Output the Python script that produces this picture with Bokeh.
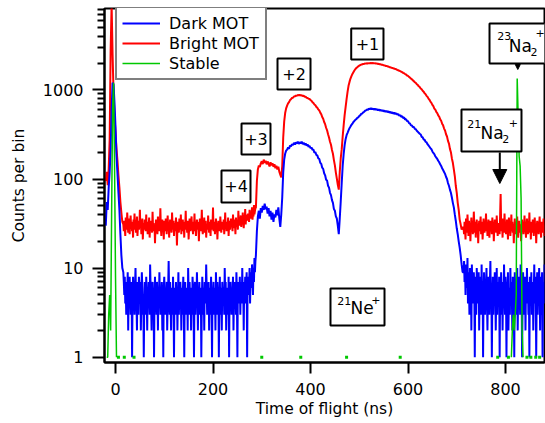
import numpy as np
from bokeh.plotting import figure
from bokeh.models import (Range1d, FixedTicker, PrintfTickFormatter, Legend, LegendItem,
                          BoxAnnotation, Label, Arrow, NormalHead)
from bokeh.embed import file_html
from bokeh.resources import INLINE

# ---------------- data: time of flight (ns) and counts per bin ----------------
# each segment: start time, bin width (ns), counts

dark_spike_t0, dark_spike_bin = -20, 2
dark_spike = [30, 55, 45, 80, 120, 210, 600, 1200, 1150, 700, 380, 180, 115, 70, 45, 24, 14, 10]
dark_floor_left_t0, dark_floor_left_bin = 16, 1
dark_floor_left = [
    9, 7, 5, 8, 4, 6, 3, 7, 5, 9, 2, 6, 4, 8, 5, 3, 7,
    6, 1, 5, 8, 4, 7, 3, 6, 10, 5, 4, 2, 7, 5, 3, 8, 6,
    4, 7, 2, 5, 9, 6, 3, 5, 1, 4, 7, 6, 3, 8, 5, 2, 6,
    4, 7, 5, 3, 11, 6, 4, 2, 5, 7, 3, 6, 1, 5, 8, 4, 6,
    3, 7, 5, 2, 6, 4, 9, 5, 3, 6, 4, 7, 2, 5, 1, 6, 8,
    4, 3, 6, 5, 7, 2, 4, 6, 12, 5, 3, 7, 4, 2, 6, 5, 3,
    8, 4, 1, 6, 5, 3, 7, 4, 6, 2, 5, 9, 3, 6, 4, 7, 5,
    2, 6, 3, 5, 8, 4, 1, 6, 7, 3, 5, 4, 6, 2, 10, 5, 3,
    7, 4, 6, 2, 5, 3, 8, 6, 4, 1, 5, 7, 3, 6, 4, 9, 5,
    2, 6, 4, 7, 3, 5, 6, 1, 4, 8, 5, 3, 6, 2, 7, 4, 5,
    11, 6, 3, 5, 4, 7, 2, 6, 5, 3, 8, 4, 1, 6, 5, 7, 3,
    4, 6, 2, 9, 5, 3, 7, 4, 6, 1, 5, 8, 3, 6, 4, 2, 7,
    5, 4, 6, 3, 10, 5, 7, 2, 4, 6, 5, 3, 8, 1, 6, 4, 7,
    5, 3, 6, 4, 8, 2, 5, 7, 4, 6, 3, 9, 5, 1, 7, 4, 6,
    5, 8, 3, 6, 7, 4, 10, 5, 6, 2, 7, 5, 8, 4, 6, 9, 1,
    7, 5, 8, 6, 10, 4, 7, 9, 6, 11, 8, 5, 10, 7, 13, 9, 12]
dark_step_t0, dark_step_bin = 288, 2
dark_step = [14, 26, 38, 44, 36, 47, 42, 50, 45, 53, 46, 49, 41, 47, 38, 44, 35, 42,
             33, 40, 37, 45, 39, 48, 36, 29, 40]
dark_humps_t0, dark_humps_bin = 342, 2
dark_humps = [
    62, 118, 165, 192, 208, 214, 226, 218, 238, 232,
    246, 240, 255, 244, 258, 250, 262, 248, 258, 252,
    262, 246, 255, 241, 250, 238, 244, 230, 236, 222,
    226, 212, 214, 198, 200, 186, 184, 170, 168, 152,
    148, 134, 130, 116, 110, 98, 96, 84, 80, 70,
    66, 58, 54, 46, 44, 38, 36, 30, 24, 36,
    56, 90, 140, 190, 240, 280, 310, 330, 352, 372,
    388, 405, 418, 436, 448, 462, 470, 486, 492, 510,
    518, 538, 542, 560, 566, 584, 590, 604, 596, 618,
    608, 622, 606, 618, 600, 614, 598, 610, 590, 604,
    584, 598, 580, 592, 574, 586, 568, 580, 562, 574,
    556, 568, 548, 560, 540, 556, 535, 548, 526, 538,
    512, 524, 500, 506, 484, 490, 466, 470, 448, 446,
    424, 420, 400, 398, 382, 384, 366, 362, 348, 340,
    330, 322, 316, 298, 294, 278, 276, 262, 258, 246,
    238, 230, 222, 216, 204, 196, 190, 180, 174, 168,
    160, 154, 146, 140, 132, 126, 120, 114, 106, 100,
    90, 84, 76, 70, 62, 54, 48, 40, 34, 28,
    24, 20, 17, 14, 11, 9]
dark_floor_right_t0, dark_floor_right_bin = 714, 1
dark_floor_right = [
    9, 12, 7, 10, 5, 11, 8, 6, 13, 4, 9, 7, 3, 10,
    6, 8, 2, 11, 5, 7, 4, 9, 6, 1, 8, 5, 3, 10,
    6, 4, 7, 9, 2, 5, 8, 6, 3, 11, 4, 7, 1, 5,
    9, 6, 3, 7, 5, 10, 4, 2, 6, 8, 5, 3, 7, 12,
    4, 6, 1, 5, 8, 3, 7, 4, 9, 6, 2, 5, 10, 3,
    7, 5, 4, 8, 1, 6, 3, 9, 5, 7, 2, 6, 4, 11,
    5, 3, 8, 6, 1, 7, 4, 9, 2, 5, 6, 3, 10, 4,
    7, 5, 2, 8, 6, 4, 1, 9, 5, 3, 7, 6, 10, 2,
    5, 8, 4, 6, 3, 11, 5, 7, 1, 4, 9, 6, 3, 5,
    8, 2, 6, 4, 10, 5, 7, 3, 6, 1, 8, 5, 4, 9,
    3, 6, 7, 2, 5, 11, 4, 8, 6, 1, 5, 9, 3, 7,
    4, 10, 6, 2, 8, 5, 3, 9, 1, 6, 7, 4, 11, 5]

bright_spike_t0, bright_spike_bin = -20, 2
bright_spike = [95, 120, 85, 130, 280, 2800, 9000, 2500, 900, 500, 330, 220, 160, 110, 80, 55, 42, 33]
bright_floor_left_t0, bright_floor_left_bin = 16, 1
bright_floor_left = [
    31, 26, 34, 28, 23, 37, 30, 27, 42, 33, 25, 29, 36, 24, 31, 39, 28,
    33, 26, 30, 22, 35, 29, 41, 27, 32, 25, 30, 38, 23, 29, 34, 27, 31,
    45, 28, 33, 24, 30, 36, 21, 29, 32, 27, 35, 30, 26, 40, 28, 31, 24,
    33, 29, 37, 22, 30, 27, 34, 31, 25, 43, 28, 32, 26, 30, 19, 29, 35,
    27, 31, 24, 38, 29, 33, 26, 30, 47, 28, 23, 32, 35, 27, 30, 21, 34,
    29, 26, 36, 31, 24, 30, 39, 27, 33, 22, 29, 35, 28, 31, 25, 42, 30,
    27, 34, 23, 29, 32, 26, 37, 30, 18, 28, 33, 31, 25, 36, 29, 27, 40,
    24, 31, 28, 35, 26, 30, 22, 33, 29, 44, 27, 31, 25, 34, 30, 21, 28,
    36, 29, 26, 32, 38, 27, 30, 24, 33, 28, 41, 26, 31, 23, 29, 35, 30,
    27, 33, 20, 29, 36, 31, 26, 30, 45, 28, 24, 32, 29, 37, 25, 30, 34,
    22, 28, 31, 27, 39, 30, 25, 33, 29, 23, 35, 31, 27, 30, 48, 26, 29,
    33, 24, 30, 36, 28, 31, 21, 29, 34, 27, 32, 26, 38, 30, 25, 33, 29,
    31, 27, 35, 24, 30, 42, 28, 33, 26, 31, 29, 37, 23, 30, 34, 27, 32,
    36, 29, 33, 26, 40, 30, 35, 28, 32, 24, 37, 31, 29, 34, 27, 44, 32,
    30, 36, 33, 39, 29, 35, 31, 42, 34, 28, 37, 33, 46, 31, 38, 35, 40,
    34, 41, 37, 33, 45, 38, 36, 43, 39, 48, 35, 42, 38, 51, 40, 44, 47]
bright_step_t0, bright_step_bin = 288, 2
bright_step = [48, 95, 128, 142, 136, 150, 158, 147, 165, 152, 160, 146, 157, 149, 138,
               154, 143, 150, 137, 146, 132, 141, 128, 137, 121, 112, 104]
bright_humps_t0, bright_humps_bin = 342, 2
bright_humps = [
    140, 290, 440, 550, 620, 665, 705, 730, 768, 785,
    812, 818, 842, 846, 862, 858, 875, 868, 880, 866,
    872, 855, 858, 838, 840, 815, 812, 795, 792, 768,
    755, 726, 714, 686, 672, 645, 632, 604, 588, 556,
    534, 496, 474, 436, 412, 376, 352, 318, 292, 262,
    242, 212, 192, 163, 142, 118, 101, 86, 76, 120,
    170, 215, 300, 400, 520, 640, 790, 950, 1110, 1230,
    1340, 1430, 1510, 1580, 1650, 1710, 1760, 1800, 1840, 1870,
    1900, 1925, 1930, 1955, 1958, 1975, 1972, 1990, 1984, 1998,
    1990, 2004, 1992, 2000, 1985, 1990, 1975, 1978, 1958, 1960,
    1940, 1938, 1912, 1910, 1886, 1884, 1860, 1856, 1832, 1826,
    1800, 1796, 1770, 1766, 1740, 1734, 1712, 1702, 1676, 1664,
    1638, 1626, 1598, 1584, 1552, 1536, 1506, 1488, 1452, 1436,
    1398, 1376, 1338, 1316, 1278, 1256, 1218, 1196, 1158, 1136,
    1098, 1076, 1038, 1016, 978, 956, 918, 896, 858, 836,
    798, 776, 738, 716, 678, 656, 618, 600, 568, 550,
    518, 500, 468, 450, 418, 400, 368, 350, 318, 300,
    268, 250, 218, 200, 170, 152, 128, 108, 84, 70,
    54, 45, 35, 31, 27, 29]
bright_floor_right_t0, bright_floor_right_bin = 714, 1
bright_floor_right = [
    28, 24, 33, 27, 21, 36, 29, 25, 40, 30, 23, 34, 27, 31,
    20, 29, 37, 26, 32, 24, 28, 43, 30, 25, 33, 22, 29, 35,
    27, 31, 19, 28, 34, 26, 30, 38, 24, 29, 33, 21, 27, 36,
    30, 25, 32, 28, 41, 26, 31, 23, 29, 35, 27, 22, 30, 34,
    26, 31, 24, 37, 28, 33, 20, 29, 35, 27, 30, 25, 39, 28,
    23, 32, 27, 30, 24, 40, 68, 33, 26, 30, 22, 36, 28, 25,
    41, 29, 32, 24, 27, 35, 30, 21, 28, 37, 26, 31, 23, 29,
    40, 27, 33, 25, 30, 19, 28, 36, 27, 24, 32, 29, 38, 26,
    22, 30, 34, 27, 25, 31, 20, 29, 35, 27, 33, 24, 28, 39,
    26, 31, 22, 29, 36, 27, 24, 32, 28, 42, 25, 30, 21, 33,
    29, 25, 35, 28, 23, 31, 37, 26, 30, 19, 28, 34, 27, 32,
    24, 30, 38, 26, 29, 22, 33, 27, 31, 25, 36, 28, 23, 30]

stable_left_t0, stable_left_bin = -18, 2
stable_left = [1, 1, 3, 5, 2, 40, 600, 1200, 150, 8, 1]
stable_right_t0, stable_right_bin = 812, 2
stable_right = [1, 2, 3, 2, 3, 5, 1340, 500, 180, 140, 60, 2, 1]
stable_single_t = [6, 18, 38, 300, 380, 474, 584, 784, 806, 844, 852, 862, 870]
stable_single = [1, 1, 1, 1, 1, 1, 1, 1, 1, 1, 1, 1, 1]

x_ticks = [0, 200, 400, 600, 800]
y_ticks = [1, 10, 100, 1000]

BLUE, RED, GREEN = "#0000ff", "#ff0000", "#00c800"
FONT = "DejaVu Sans"


def series(segments, gap=False):
    xs, ys = [], []
    for t0, step, vals in segments:
        xs.extend(t0 + step * np.arange(len(vals)))
        ys.extend(vals)
        if gap:
            xs.append(np.nan)
            ys.append(np.nan)
    return np.array(xs, float), np.array(ys, float)


dark_x, dark_y = series([
    (dark_spike_t0, dark_spike_bin, dark_spike),
    (dark_floor_left_t0, dark_floor_left_bin, dark_floor_left),
    (dark_step_t0, dark_step_bin, dark_step),
    (dark_humps_t0, dark_humps_bin, dark_humps),
    (dark_floor_right_t0, dark_floor_right_bin, dark_floor_right)])
bright_x, bright_y = series([
    (bright_spike_t0, bright_spike_bin, bright_spike),
    (bright_floor_left_t0, bright_floor_left_bin, bright_floor_left),
    (bright_step_t0, bright_step_bin, bright_step),
    (bright_humps_t0, bright_humps_bin, bright_humps),
    (bright_floor_right_t0, bright_floor_right_bin, bright_floor_right)])
stable_x, stable_y = series([
    (stable_left_t0, stable_left_bin, stable_left),
    (stable_right_t0, stable_right_bin, stable_right)], gap=True)

p = figure(width=545, height=423, y_axis_type="log",
           x_range=Range1d(-22.6, 880), y_range=Range1d(0.872, 8196),
           output_backend="svg", toolbar_location=None,
           min_border_left=104, min_border_right=1, min_border_top=8, min_border_bottom=61)
p.grid.visible = False
p.outline_line_color = "black"
p.outline_line_width = 2
p.background_fill_color = "white"
p.border_fill_color = "white"

r_bright = p.line(bright_x, bright_y, line_color=RED, line_width=2)
r_dark = p.line(dark_x, dark_y, line_color=BLUE, line_width=2)
r_stable = p.line(stable_x, stable_y, line_color=GREEN, line_width=1.5)
p.scatter(stable_single_t, stable_single, marker="square", size=3, color=GREEN, line_width=0)

# axes
for ax in (p.xaxis[0], p.yaxis[0]):
    ax.axis_line_width = 2
    ax.axis_line_color = "black"
    ax.major_tick_line_width = 2
    ax.major_tick_line_color = "black"
    ax.major_tick_in = 0
    ax.minor_tick_in = 0
    ax.major_label_text_font = FONT
    ax.major_label_text_font_size = "16px"
    ax.major_label_text_color = "black"
    ax.axis_label_text_font = FONT
    ax.axis_label_text_font_size = "15.5px"
    ax.axis_label_text_font_style = "normal"
    ax.axis_label_text_color = "black"

p.xaxis.ticker = FixedTicker(ticks=x_ticks)
p.xaxis.major_tick_out = 11
p.xaxis.minor_tick_line_color = None
p.xaxis.major_label_standoff = 9
p.xaxis.axis_label = "Time of flight (ns)"
p.xaxis.axis_label_standoff = 2

minor = [m * d for d in (1, 10, 100, 1000) for m in range(2, 10) if m * d < 8196]
p.yaxis.ticker = FixedTicker(ticks=y_ticks, minor_ticks=minor)
p.yaxis.formatter = PrintfTickFormatter(format="%d")
p.yaxis.major_tick_out = 12
p.yaxis.minor_tick_out = 7
p.yaxis.minor_tick_line_width = 2
p.yaxis.minor_tick_line_color = "black"
p.yaxis.major_label_standoff = 9
p.yaxis.axis_label = "Counts per bin"
p.yaxis.axis_label_standoff = 12

# legend
legend = Legend(items=[LegendItem(label="Dark MOT", renderers=[r_dark]),
                       LegendItem(label="Bright MOT", renderers=[r_bright]),
                       LegendItem(label="Stable", renderers=[r_stable])],
                location=(11, 282), margin=0, padding=5, spacing=0,
                glyph_width=38, glyph_height=20, label_height=20, label_width=91,
                label_standoff=9, label_text_font=FONT, label_text_font_size="16px",
                label_text_color="black",
                border_line_color="black", border_line_width=2, background_fill_alpha=1)
p.add_layout(legend)


def box(left, right, bottom, top):
    p.add_layout(BoxAnnotation(left=left, right=right, bottom=bottom, top=top,
                               fill_color="white", fill_alpha=1, line_color="black",
                               line_width=2, line_alpha=1))


def text(x, y, s, size, align="center"):
    p.add_layout(Label(x=x, y=y, text=s, text_align=align, text_baseline="middle",
                       text_font=FONT, text_font_size=size, text_color="black"))


# charge-state boxes
box(217.4, 276.9, 54.5, 124.6); text(247.2, 82.4, "+4", "16px")
box(258.5, 317.9, 188.4, 419.6); text(288.2, 281.1, "+3", "16px")
box(332.3, 400.0, 1010, 2251); text(366.2, 1508, "+2", "16px")
box(483.5, 549.7, 2194, 4888); text(516.9, 3275, "+1", "16px")

# 23Na2+
box(767.2, 882.0, 1978, 5563)
text(783.0, 4079, "23", "11px", "left")
text(806.8, 3150, "Na", "17px", "left")
text(851.3, 2629, "2", "11px", "left")
text(861.5, 4351, "+", "11px", "left")
p.add_layout(Arrow(x_start=825.2, y_start=1978, x_end=825.2, y_end=1694, line_width=1,
                   end=NormalHead(size=5, fill_color="black", line_color="black")))

# 21Na2+
box(709.7, 832.8, 203.5, 602.6)
text(721.4, 409.0, "21", "11px", "left")
text(748.7, 328.3, "Na", "17px", "left")
text(793.2, 284.8, "2", "11px", "left")
text(806.8, 425.1, "+", "11px", "left")
p.add_layout(Arrow(x_start=788.3, y_start=198, x_end=788.3, y_end=89, line_width=2,
                   end=NormalHead(size=14, fill_color="black", line_color="black")))

# 21Ne+
box(441.0, 551.8, 2.269, 5.902)
text(454.8, 4.219, "21", "11px", "left")
text(482.1, 3.521, "Ne", "17px", "left")
text(524.5, 4.442, "+", "11px", "left")

open("out.html", "w").write(file_html(p, INLINE))
